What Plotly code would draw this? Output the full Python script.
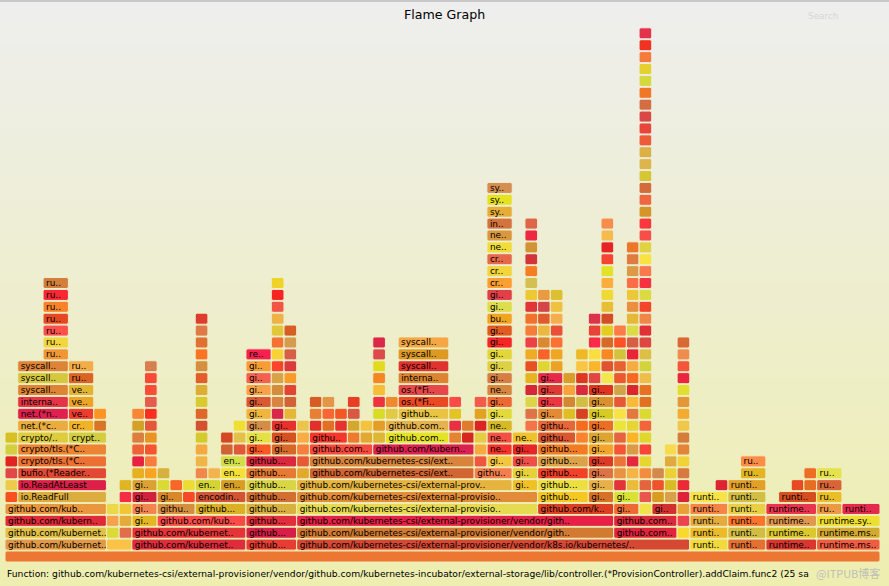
import hashlib
import plotly.graph_objects as go

TOTAL_SAMPLES = 69

# ---- labelled / multi-sample frames, one list per stack depth: (start_sample, n_samples, label)
frames_d0 = [(0, 69, "")]
frames_d1 = [(0, 8, "github.com/kubernet.."), (8, 2, ""), (10, 9, "github.com/kubernet.."), (19, 4, "github..."),
             (23, 31, "github.com/kubernetes-csi/external-provisioner/vendor/k8s.io/kubernetes/.."),
             (54, 3, "runti.."), (57, 3, "runti.."), (60, 4, "runtime.."), (64, 5, "runtime.ms..")]
frames_d2 = [(0, 8, "github.com/kubernet.."), (10, 9, "github.com/kubernet.."), (19, 4, "github..."),
             (23, 25, "github.com/kubernetes-csi/external-provisioner/vendor/gith.."), (48, 5, "github.com.."),
             (54, 3, "runti.."), (57, 3, "runti.."), (60, 4, "runtime.."), (64, 5, "runtime.ms..")]
frames_d3 = [(0, 8, "github.com/kubern.."), (10, 2, "gi.."), (12, 7, "github.com/kub.."), (19, 4, "github..."),
             (23, 25, "github.com/kubernetes-csi/external-provisioner/vendor/gith.."), (48, 5, "github.com.."),
             (54, 3, "runti.."), (57, 3, "runti.."), (60, 4, "runtime.."), (64, 5, "runtime.sy..")]
frames_d4 = [(0, 8, "github.com/kub.."), (10, 2, "gi.."), (12, 3, "githu.."), (15, 4, "github..."), (19, 4, "github..."),
             (23, 19, "github.com/kubernetes-csi/external-provisio.."), (42, 6, "github.com/k.."), (48, 2, "gi.."),
             (51, 2, "gi.."), (54, 3, "runti.."), (57, 3, "runti.."), (60, 4, "runtime.."), (64, 2, "ru.."),
             (66, 3, "runti..")]
frames_d5 = [(1, 7, "io.ReadFull"), (10, 2, "gi.."), (12, 2, "gi.."), (15, 4, "encodin.."), (19, 4, "github..."),
             (23, 19, "github.com/kubernetes-csi/external-provisio.."), (42, 4, "github..."), (46, 2, "gi.."),
             (48, 2, "gi.."), (54, 3, "runti.."), (57, 3, "runti.."), (61, 3, "runti.."), (64, 2, "ru..")]
frames_d6 = [(1, 7, "io.ReadAtLeast"), (10, 2, "gi.."), (15, 2, "en.."), (17, 2, "en.."), (19, 4, "github..."),
             (23, 17, "github.com/kubernetes-csi/external-prov.."), (40, 2, "gi.."), (42, 4, "github..."),
             (46, 2, "gi.."), (57, 3, "runti.."), (64, 2, "ru..")]
frames_d7 = [(1, 7, "bufio.(*Reader.."), (17, 2, "en.."), (19, 4, "github..."),
             (24, 13, "github.com/kubernetes-csi/ext.."), (37, 3, "githu.."), (40, 2, "gi.."), (42, 4, "github..."),
             (46, 2, "gi.."), (58, 2, "ru.."), (64, 2, "ru..")]
frames_d8 = [(1, 7, "crypto/tls.(*C.."), (17, 2, "en.."), (19, 4, "github..."),
             (24, 13, "github.com/kubernetes-csi/ext.."), (38, 2, "gi.."), (40, 2, "gi.."), (42, 4, "github..."),
             (46, 2, "gi.."), (58, 2, "ru..")]
frames_d9 = [(1, 7, "crypto/tls.(*C.."), (19, 2, "gi.."), (21, 2, "gi.."), (24, 5, "github.com.."),
             (29, 8, "github.com/kubern.."), (38, 2, "ne.."), (40, 2, "gi.."), (42, 4, "github..."), (46, 2, "gi..")]
frames_d10 = [(1, 4, "crypto/.."), (5, 3, "crypt.."), (19, 2, "gi.."), (21, 2, "gi.."), (24, 3, "githu.."),
              (30, 5, "github.com.."), (38, 2, "ne.."), (40, 2, "ne.."), (42, 3, "githu.."), (46, 2, "gi..")]
frames_d11 = [(1, 4, "net.(*c.."), (5, 2, "cr.."), (19, 2, "gi.."), (21, 2, "gi.."), (30, 5, "github.com.."),
              (38, 2, "ne.."), (42, 3, "githu.."), (46, 2, "gi..")]
frames_d12 = [(1, 4, "net.(*n.."), (5, 2, "ve.."), (19, 2, "gi.."), (31, 4, "github..."), (38, 2, "gi.."),
              (42, 2, "gi.."), (46, 2, "gi..")]
frames_d13 = [(1, 4, "interna.."), (5, 2, "ve.."), (19, 2, "gi.."), (31, 4, "os.(*Fi.."), (38, 2, "gi.."),
              (42, 2, "gi.."), (46, 2, "gi..")]
frames_d14 = [(1, 4, "syscall.."), (5, 2, "ve.."), (19, 2, "gi.."), (31, 4, "os.(*Fi.."), (38, 2, "ne.."),
              (42, 2, "gi.."), (46, 2, "gi..")]
frames_d15 = [(1, 4, "syscall.."), (5, 2, "ru.."), (19, 2, "gi.."), (31, 4, "interna.."), (38, 2, "gi.."),
              (42, 2, "gi..")]
frames_d16 = [(1, 4, "syscall.."), (5, 2, "ru.."), (19, 2, "gi.."), (31, 4, "syscall.."), (38, 2, "gi..")]
frames_d17 = [(3, 2, "ru.."), (19, 2, "re.."), (31, 4, "syscall.."), (38, 2, "gi..")]
frames_d18 = [(3, 2, "ru.."), (31, 4, "syscall.."), (38, 2, "gi..")]
frames_d19 = [(3, 2, "ru.."), (38, 2, "gi..")]
frames_d20 = [(3, 2, "ru.."), (38, 2, "bu..")]
frames_d21 = [(3, 2, "ru.."), (38, 2, "gi..")]
frames_d22 = [(3, 2, "ru.."), (38, 2, "gi..")]
frames_d23 = [(3, 2, "ru.."), (38, 2, "cr..")]
frames_d24 = [(38, 2, "cr..")]
frames_d25 = [(38, 2, "cr..")]
frames_d26 = [(38, 2, "ne..")]
frames_d27 = [(38, 2, "ne..")]
frames_d28 = [(38, 2, "in..")]
frames_d29 = [(38, 2, "sy..")]
frames_d30 = [(38, 2, "sy..")]
frames_d31 = [(38, 2, "sy..")]

stack_rows = [frames_d0, frames_d1, frames_d2, frames_d3, frames_d4, frames_d5, frames_d6, frames_d7,
              frames_d8, frames_d9, frames_d10, frames_d11, frames_d12, frames_d13, frames_d14, frames_d15,
              frames_d16, frames_d17, frames_d18, frames_d19, frames_d20, frames_d21, frames_d22, frames_d23,
              frames_d24, frames_d25, frames_d26, frames_d27, frames_d28, frames_d29, frames_d30, frames_d31]

# ---- single-sample (unlabelled) frames stacked in one sample column: (sample, from_depth, to_depth)
single_columns = [
    (0, 5, 10), (7, 11, 12), (8, 2, 4), (9, 2, 6), (10, 7, 12), (11, 7, 16), (12, 6, 7), (13, 6, 6),
    (14, 5, 6), (15, 7, 20), (16, 7, 7), (17, 9, 10), (18, 9, 11), (21, 12, 23), (22, 12, 19), (23, 7, 11),
    (24, 11, 13), (25, 11, 13), (26, 11, 12), (27, 10, 13), (28, 10, 11), (29, 10, 18), (30, 12, 13),
    (35, 10, 13), (36, 10, 11), (37, 8, 13), (41, 11, 28), (42, 16, 22), (43, 16, 22), (44, 12, 15),
    (45, 10, 17), (46, 15, 20), (47, 15, 28), (48, 6, 19), (49, 6, 26), (50, 4, 44), (51, 5, 7),
    (52, 5, 9), (53, 2, 18), (56, 6, 6), (62, 6, 6), (63, 6, 7),
]

# ---- colours for the large frames (depth, start) -> rgb
color_override = {
    (0, 0): "rgb(236,118,50)",
    (1, 0): "rgb(226,152,70)", (2, 0): "rgb(226,192,70)", (3, 0): "rgb(224,42,58)", (4, 0): "rgb(234,150,60)",
    (5, 1): "rgb(220,172,62)", (6, 1): "rgb(220,32,72)", (7, 1): "rgb(226,72,52)", (8, 1): "rgb(236,112,52)",
    (9, 1): "rgb(236,132,52)", (10, 1): "rgb(222,204,62)", (11, 1): "rgb(234,172,62)", (12, 1): "rgb(224,32,80)",
    (13, 1): "rgb(230,52,70)", (14, 1): "rgb(222,132,52)", (15, 1): "rgb(214,200,62)", (16, 1): "rgb(222,132,56)",
    (1, 10): "rgb(222,44,58)", (2, 10): "rgb(228,52,55)",
    (1, 19): "rgb(230,60,50)", (2, 19): "rgb(214,30,70)", (3, 19): "rgb(226,46,60)", (4, 19): "rgb(216,176,62)",
    (5, 19): "rgb(210,110,50)", (6, 19): "rgb(216,214,70)", (7, 19): "rgb(230,122,50)", (8, 19): "rgb(220,40,62)",
    (1, 23): "rgb(214,72,52)", (2, 23): "rgb(210,122,50)", (3, 23): "rgb(230,32,70)", (4, 23): "rgb(230,218,80)",
    (5, 23): "rgb(226,140,56)", (6, 23): "rgb(230,180,62)", (7, 24): "rgb(210,102,50)", (8, 24): "rgb(216,132,60)",
    (9, 29): "rgb(220,32,80)",
    (2, 48): "rgb(225,36,60)", (3, 48): "rgb(220,40,60)",
}

# ---- build the frame table
depths, starts, widths, labels = [], [], [], []
for depth, row in enumerate(stack_rows):
    for s, w, lab in row:
        depths.append(depth)
        starts.append(s)
        widths.append(w)
        labels.append(lab)
for col, lo, hi in single_columns:
    for depth in range(lo, hi + 1):
        depths.append(depth)
        starts.append(col)
        widths.append(1)
        labels.append("")


def hot_color(depth, start):
    """flamegraph.pl 'hot' palette (hashed per frame), softened slightly toward the page colour."""
    if (depth, start) in color_override:
        return color_override[(depth, start)]
    h = hashlib.md5(f"{depth}/{start}".encode()).digest()
    v1, v2, v3 = h[0] / 255, h[1] / 255, h[2] / 255
    r, g, b = 205 + 50 * v3, 230 * v1, 55 * v2
    k = 0.14
    r, g, b = (1 - k) * r + k * 240, (1 - k) * g + k * 238, (1 - k) * b + k * 225
    return "rgb(%d,%d,%d)" % (round(r), round(g), round(b))


W, H = 889, 586
ROW_PX = 11.89
ROOT_CENTER_PX = 556.5
LEFT_PX, RIGHT_PX = 5.0, 880.0
unit = (RIGHT_PX - LEFT_PX) / TOTAL_SAMPLES
x_min = -LEFT_PX / unit
x_max = x_min + W / unit
y_span = H / ROW_PX
y_min = -(1 - ROOT_CENTER_PX / H) * y_span
y_max = y_min + y_span


def bg_at(depth):
    # page gradient #eeeeee (top) -> #eeeeb0 (bottom)
    frac = (depth - y_min) / (y_max - y_min)
    b = 176 + (238 - 176) * frac
    return "rgb(238,238,%d)" % round(b)


colors = [hot_color(d, s) for d, s in zip(depths, starts)]
edge_colors = [bg_at(d) for d in depths]

fig = go.Figure()

# background gradient
bg_rows = [y_min - 1 + i for i in range(int(y_span) + 3)]
fig.add_trace(go.Heatmap(
    x=[x_min - 1, x_max + 1], y=bg_rows, z=[[v, v] for v in bg_rows],
    zmin=y_min, zmax=y_max, colorscale=[[0, "#eeeeb0"], [1, "#eeeeee"]],
    showscale=False, hoverinfo="skip",
))

fig.add_trace(go.Bar(
    orientation="h",
    y=depths, x=widths, base=starts,
    width=0.93,
    marker=dict(color=colors, cornerradius=2, line=dict(color=edge_colors, width=1)),
    text=labels,
    textposition="inside",
    insidetextanchor="start",
    textangle=0,
    constraintext="none",
    textfont=dict(family="DejaVu Sans", size=8.9, color="#000000"),
    hoverinfo="skip",
))

fig.update_layout(
    width=W, height=H,
    margin=dict(l=0, r=0, t=0, b=0),
    paper_bgcolor="#eeeeee",
    plot_bgcolor="rgba(0,0,0,0)",
    showlegend=False,
    xaxis=dict(visible=False, range=[x_min, x_max], fixedrange=True),
    yaxis=dict(visible=False, range=[y_min, y_max], fixedrange=True),
    shapes=[dict(type="line", xref="paper", yref="paper", x0=0, x1=1, y0=1 - 1 / H, y1=1 - 1 / H,
                 line=dict(color="#c8c8c8", width=2))],
    annotations=[
        dict(text="Flame Graph", xref="paper", yref="paper", x=0.5, y=1 - 14 / H, xanchor="center",
             yanchor="middle", showarrow=False, font=dict(family="DejaVu Sans", size=12.6, color="#000000")),
        dict(text="Search", xref="paper", yref="paper", x=806 / W, y=1 - 16 / H, xanchor="left",
             yanchor="middle", showarrow=False, font=dict(family="DejaVu Sans", size=8.9, color="#d6d6d6")),
        # the tail of this line is hidden under the site watermark in the picture
        dict(text="Function: github.com/kubernetes-csi/external-provisioner/vendor/github.com/kubernetes-incubator/"
                  "external-storage/lib/controller.(*ProvisionController).addClaim.func2 (25 sa",
             xref="paper", yref="paper", x=5 / W, y=1 - 573 / H, xanchor="left", yanchor="middle",
             showarrow=False, font=dict(family="DejaVu Sans", size=9.2, color="#000000")),
        dict(text="@ITPUB博客", xref="paper", yref="paper", x=882 / W, y=1 - 573 / H, xanchor="right",
             yanchor="middle", showarrow=False,
             font=dict(family="Noto Sans CJK SC", size=11, color="rgba(185,185,185,0.95)")),
    ],
)

fig.write_html("out.html")
